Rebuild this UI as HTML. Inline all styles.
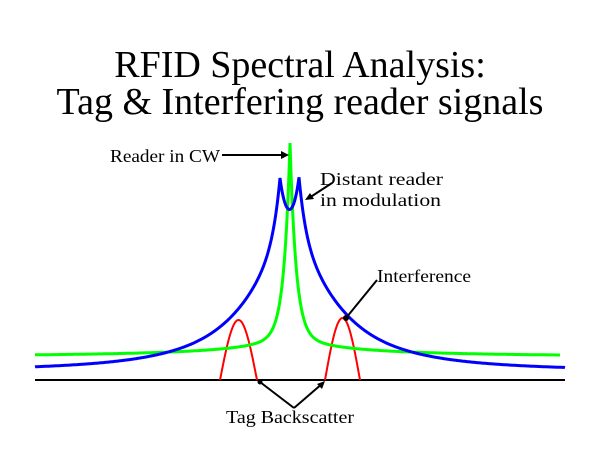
<!DOCTYPE html>
<html><head><style>
body{margin:0;background:#fff;}
svg{display:block}
text{font-family:"Liberation Serif",serif;fill:#000}
</style></head><body>
<svg id="s" width="600" height="450" viewBox="0 0 600 450">
<text x="300" y="77" font-size="38" text-anchor="middle">RFID Spectral Analysis:</text>
<text x="300" y="114" font-size="38" text-anchor="middle">Tag &amp; Interfering reader signals</text>
<line x1="35" y1="380" x2="565" y2="380" stroke="#000" stroke-width="2"/>
<path id="red" fill="none" stroke="#f00" stroke-width="2"/>
<path id="green" fill="none" stroke="#0f0" stroke-width="3"/>
<path id="blue" fill="none" stroke="#00f" stroke-width="3"/>
<text x="110" y="162" font-size="18" textLength="110" lengthAdjust="spacingAndGlyphs">Reader in CW</text>
<line x1="222" y1="155" x2="284" y2="155" stroke="#000" stroke-width="2"/>
<polygon points="289,155 281,151 281,159" fill="#000"/>
<text x="320" y="185" font-size="18" textLength="123" lengthAdjust="spacingAndGlyphs">Distant reader</text>
<text x="320" y="206" font-size="18" textLength="121" lengthAdjust="spacingAndGlyphs">in modulation</text>
<line x1="332" y1="183" x2="309" y2="198" stroke="#000" stroke-width="2"/>
<polygon points="305,200 310,193 314,199" fill="#000"/>
<text x="377" y="282" font-size="18" textLength="94" lengthAdjust="spacingAndGlyphs">Interference</text>
<line x1="377" y1="280" x2="346" y2="318" stroke="#000" stroke-width="2"/>
<circle cx="346" cy="318" r="3" fill="#000"/>
<text x="226" y="423" font-size="18" textLength="128" lengthAdjust="spacingAndGlyphs">Tag Backscatter</text>
<line x1="294" y1="408" x2="260" y2="382" stroke="#000" stroke-width="2"/>
<line x1="294" y1="408" x2="323" y2="383" stroke="#000" stroke-width="2"/>
<circle cx="260" cy="382" r="2.5" fill="#000"/>
<polygon points="325,381 317,384 322,389" fill="#000"/>
</svg>
<script>
function P(f,a,b,st){var d="";for(var x=a;x<=b+1e-6;x+=st){d+=(x==a?"M":"L")+x.toFixed(1)+","+(380-f(x)).toFixed(1)+" ";}return d;}
document.getElementById("blue").setAttribute("d",P(function(x){var d=x-290;return 8+118/(1+d*d/3025)+73*Math.exp(-Math.abs(x-280)/8)+73*Math.exp(-Math.abs(x-299)/8);},35,565,0.5));
document.getElementById("green").setAttribute("d",P(function(x){var d=x-290;return 22+30/(1+Math.abs(d)/30)+185*Math.exp(-Math.abs(d)/6);},35,560,0.5));
function hump(a,b,h){return function(x){return h*Math.sin(Math.PI*(x-a)/(b-a));};}
document.getElementById("red").setAttribute("d",P(hump(220,257,60),220,257,0.5)+P(hump(325,360,62),325,360,0.5));
</script>
</body></html>
